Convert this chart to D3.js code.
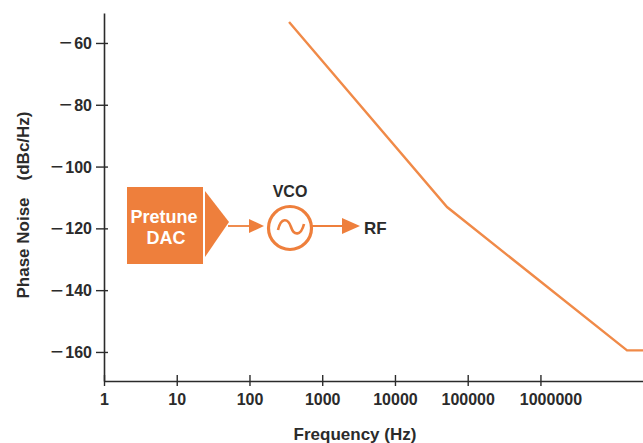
<!DOCTYPE html>
<html>
<head>
<meta charset="utf-8">
<script src="https://cdn.jsdelivr.net/npm/d3@7"></script>
<style>
  body { margin: 0; background: #fff; }
  svg text { font-family: "Liberation Sans", Arial, sans-serif; fill: #2b2b2b; }
</style>
</head>
<body>
<div id="graph"></div>
<script>
// values
const freq = [350, 52000, 15500000, 25700000];
const noise = [-53.2, -113.1, -159.5, -159.5];
const xTicks = [1, 10, 100, 1000, 10000, 100000, 1000000];
const yTicks = [-60, -80, -100, -120, -140, -160];
const xTitle = "Frequency (Hz)";
const yTitle = ["Phase Noise", "(dBc/Hz)"];

const width = 643, height = 443;
const orange = "#f08a48", boxOrange = "#ee7f3c", ink = "#2b2b2b";

const svg = d3.select("#graph").append("svg")
  .attr("width", width).attr("height", height);

const x = d3.scaleLog().domain([1, 25700000]).range([104, 643]);
const y = d3.scaleLinear().domain([-169.4, -50.3]).range([381, 13]);

// x axis
const xAxis = d3.axisBottom(x).tickValues(xTicks).tickFormat(d3.format("d")).tickSizeOuter(0);
const gx = svg.append("g").attr("transform", "translate(0,381)").call(xAxis);
gx.select(".domain").attr("stroke", ink).attr("stroke-width", 1.6);
gx.selectAll(".tick line").attr("stroke", ink).attr("stroke-width", 1.4).attr("y1", -6).attr("y2", 5);
gx.selectAll(".tick text").attr("y", 13).style("font-size", "16px")
  .attr("dx", d => d === 1000000 ? 10 : 0);

// y axis
const yAxis = d3.axisLeft(y).tickValues(yTicks).tickSizeOuter(0);
const gy = svg.append("g").attr("transform", "translate(104,0)").call(yAxis);
gy.select(".domain").attr("stroke", ink).attr("stroke-width", 1.6);
gy.selectAll(".tick line").attr("stroke", ink).attr("stroke-width", 1.4).attr("x1", 4).attr("x2", -8);
gy.selectAll(".tick text").attr("x", -12).attr("dy", null).style("font-size", "16px").text(null)
  .each(function(d) {
    const t = d3.select(this);
    t.append("tspan").style("font-size", "22px").attr("dy", 7).text("\u2212");
    t.append("tspan").attr("dx", 2).attr("dy", -1.5).text(Math.abs(d));
  });
svg.selectAll(".tick text")
  .style("font-family", "'Liberation Sans', Arial, sans-serif")
  .style("font-weight", "bold").style("fill", ink);
gy.selectAll(".tick text tspan:first-child").style("font-weight", "normal");

// titles
svg.append("text").attr("x", 355).attr("y", 440).attr("text-anchor", "middle")
  .attr("font-size", 17).attr("font-weight", "bold").text(xTitle);
const yt = svg.append("text").attr("transform", "translate(29,205) rotate(-90)").attr("text-anchor", "middle")
  .attr("font-size", 17).attr("font-weight", "bold");
yt.append("tspan").text(yTitle[0]);
yt.append("tspan").attr("dx", 17).text(yTitle[1]);

// phase noise curve
const line = d3.line().x((d, i) => x(freq[i])).y(d => y(d));
svg.append("path").datum(noise).attr("d", line)
  .attr("fill", "none").attr("stroke", orange).attr("stroke-width", 2.4);

// block diagram
const dg = svg.append("g").attr("transform", "translate(0,226)");
dg.append("rect").attr("x", 127).attr("y", -39).attr("width", 76).attr("height", 77).attr("fill", boxOrange);
dg.append("path").attr("d", "M205,-35 L229,-4 L205,31 Z").attr("fill", boxOrange);
dg.append("text").attr("x", 164).attr("y", -3).attr("text-anchor", "middle")
  .attr("font-size", 18).attr("font-weight", "bold").style("fill", "#fff").text("Pretune");
dg.append("text").attr("x", 166).attr("y", 18).attr("text-anchor", "middle")
  .attr("font-size", 18).attr("font-weight", "bold").style("fill", "#fff").text("DAC");
dg.append("line").attr("x1", 228).attr("x2", 252).attr("y1", 0).attr("y2", 0).attr("stroke", boxOrange).attr("stroke-width", 1.8);
dg.append("path").attr("d", "M249,-7 L264,0 L249,7 Z").attr("fill", boxOrange);
dg.append("circle").attr("cx", 290).attr("cy", 2).attr("r", 21.5)
  .attr("fill", "none").attr("stroke", boxOrange).attr("stroke-width", 3.2);
dg.append("path").attr("d", "M278,4 C281,-9 288,-8 291,1 C294,10 301,10 304,-2")
  .attr("fill", "none").attr("stroke", boxOrange).attr("stroke-width", 2.6);
dg.append("line").attr("x1", 311).attr("x2", 345).attr("y1", 0).attr("y2", 0).attr("stroke", boxOrange).attr("stroke-width", 1.8);
dg.append("path").attr("d", "M342,-8 L360,0 L342,8 Z").attr("fill", boxOrange);
dg.append("text").attr("x", 290).attr("y", -29).attr("text-anchor", "middle")
  .attr("font-size", 16).attr("font-weight", "bold").text("VCO");
dg.append("text").attr("x", 364).attr("y", 8).attr("font-size", 17).attr("font-weight", "bold").text("RF");
</script>
</body>
</html>
